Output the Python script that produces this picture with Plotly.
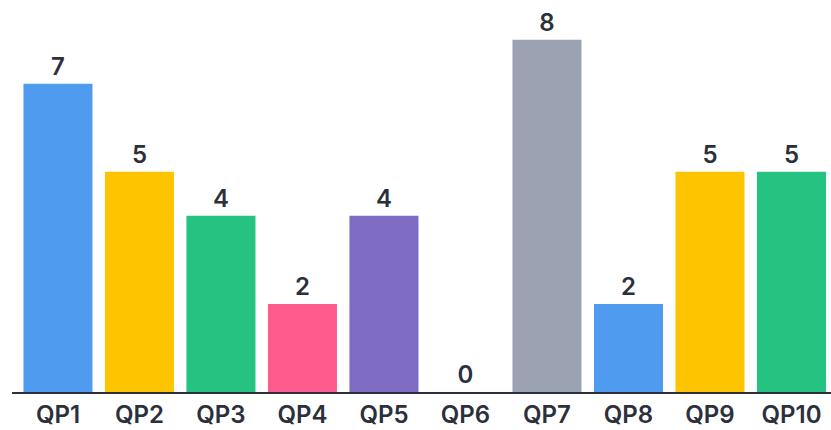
import plotly.graph_objects as go

categories = ["QP1", "QP2", "QP3", "QP4", "QP5", "QP6", "QP7", "QP8", "QP9", "QP10"]
values = [7, 5, 4, 2, 4, 0, 8, 2, 5, 5]
colors = ["#4F9BF0", "#FFC400", "#26C281", "#FF5C8D", "#7E6BC4",
          "#4F9BF0", "#9BA3B2", "#4F9BF0", "#FFC400", "#26C281"]

fig = go.Figure(go.Bar(
    x=categories, y=values,
    marker=dict(color=colors, line=dict(width=0)),
    text=[str(v) for v in values],
    textposition="outside",
    cliponaxis=False,
    textfont=dict(family="Inter", size=24, color="#2B303B", weight=600),
))

fig.update_layout(
    width=831, height=430,
    margin=dict(l=12, r=0, t=0, b=38),
    paper_bgcolor="white", plot_bgcolor="white",
    bargap=0.153,
    showlegend=False,
    xaxis=dict(range=[-0.564, 9.485], showgrid=False, showline=True,
               linecolor="#2B303B", linewidth=2, ticks="",
               tickfont=dict(family="Inter", size=24, color="#2B303B", weight=600)),
    yaxis=dict(range=[0, 8.9], visible=False, showgrid=False, zeroline=False),
)

fig.write_html("out.html")
